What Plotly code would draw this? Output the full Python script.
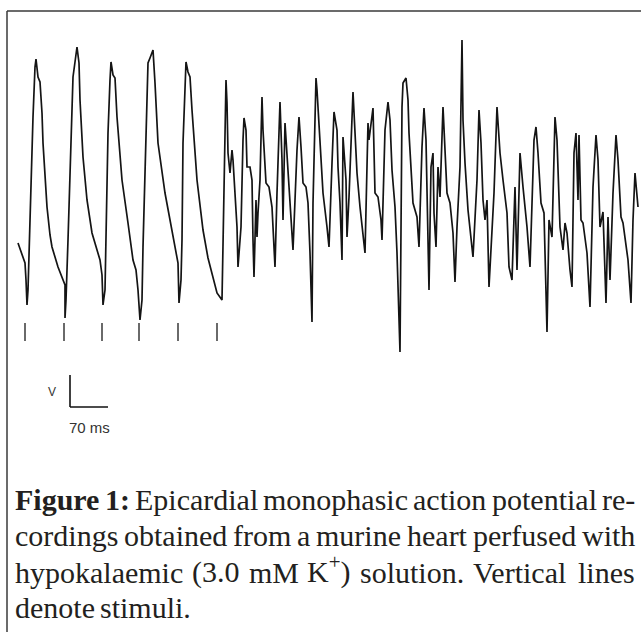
import plotly.graph_objects as go

W, H = 641, 632

# ---- MAP trace (time in samples, amplitude in arbitrary units) ----
t = [18, 21, 25, 26, 27, 28, 30, 32, 33, 35, 36, 37, 38, 40, 42, 43, 45, 47, 50, 52, 58, 65, 65,
     66, 68, 70, 71, 73, 75, 77, 79, 80, 83, 87, 92, 100, 102, 103,
     105, 106, 108, 110, 111, 113, 115, 117, 122, 128, 133, 136, 138, 140,
     142, 143, 146, 148, 150, 153, 155, 158, 165, 172, 178, 179,
     181, 182, 183, 186, 188, 190, 192, 197, 203, 208, 212, 217, 222,
     224, 225, 226, 227, 228, 230, 232, 233, 235, 237, 238,
     241, 243, 244, 246, 247, 250, 252, 253, 254,
     256, 257, 258, 260, 262, 263, 266, 269, 272, 273, 275,
     277, 278, 280, 282, 283, 285, 287, 288, 290, 293,
     297, 299, 301, 303, 306, 308, 310, 312,
     313, 316, 317, 319, 321, 323, 327, 329,
     332, 334, 337, 338, 340, 342,
     343, 346, 347, 349, 353, 355, 357, 360, 363, 365,
     368, 369, 373, 374, 375, 378, 381, 382,
     385, 388, 390, 392, 395, 397, 400,
     402, 403, 406, 408, 409, 411, 413, 417, 419,
     422, 424, 426, 427, 429,
     431, 433, 434, 436,
     438, 440, 443, 445, 447, 450, 453, 455,
     457, 460, 462, 462, 463, 465, 468, 472, 473,
     477, 479, 481, 483, 485, 487, 489,
     492, 494, 497, 500, 503, 507, 509, 512,
     515, 517, 520, 522, 523, 527, 530,
     534, 536, 538, 541, 544, 547, 547,
     549, 552, 555, 557, 560, 563, 565, 567, 570, 572,
     574, 576, 578, 579, 581, 583, 587, 590,
     593, 596, 598, 600, 603, 606,
     608, 610, 613, 616, 618, 621, 623, 628, 631,
     633, 635, 637, 638]
v = [117, 108, 97, 80, 55, 70, 147, 198, 243, 293, 301, 292, 283, 278, 247, 217, 180, 153, 125, 113, 93, 75, 42,
     60, 120, 180, 223, 283, 298, 313, 297, 260, 203, 160, 127, 100, 85, 55,
     70, 117, 227, 280, 298, 285, 282, 243, 180, 137, 100, 90, 70, 40,
     60, 113, 227, 297, 302, 310, 277, 217, 167, 127, 97, 57,
     80, 120, 217, 298, 288, 283, 250, 180, 130, 102, 87, 67, 60,
     160, 240, 280, 257, 207, 187, 210, 200, 167, 133, 93,
     133, 220, 242, 230, 193, 193, 180, 120, 83,
     160, 123, 147, 180, 263, 230, 177, 173, 153, 133, 93,
     167, 197, 258, 200, 140, 237, 207, 183, 153, 110,
     210, 243, 213, 177, 173, 157, 107, 38,
     157, 282, 270, 233, 193, 167, 133, 113,
     197, 248, 230, 193, 157, 100,
     223, 180, 123, 163, 268, 227, 187, 153, 127, 107,
     237, 220, 252, 220, 167, 163, 140, 120,
     230, 258, 240, 190, 153, 107, 8,
     253, 277, 282, 260, 227, 187, 157, 143, 113,
     213, 252, 220, 167, 70,
     193, 207, 147, 113,
     193, 163, 253, 213, 167, 157, 127, 78,
     133, 193, 298, 320, 240, 197, 150, 110, 103,
     180, 250, 217, 160, 140, 160, 73,
     123, 167, 253, 207, 180, 147, 93, 80,
     173, 90, 207, 183, 173, 133, 93,
     220, 233, 207, 157, 147, 50, 28,
     140, 123, 243, 220, 133, 110, 137, 127, 90, 73,
     207, 227, 160, 225, 140, 137, 107, 53,
     173, 225, 200, 133, 148, 57,
     143, 80, 167, 225, 200, 143, 137, 100, 57,
     140, 187, 163, 153]

# stimulus markers
stim_t = [25, 64, 102, 139, 178, 217]
stim_top = [37, 37, 37, 37, 37, 37]
stim_bottom = [19, 19, 19, 19, 19, 19]

# caption text: (word, bold) per line; last line is not justified
caption_lines = [
    [("Figure", True), ("1:", True), ("Epicardial", False), ("monophasic", False),
     ("action", False), ("potential", False), ("re-", False)],
    [("cordings", False), ("obtained", False), ("from", False), ("a", False), ("murine", False),
     ("heart", False), ("perfused", False), ("with", False)],
    [("hypokalaemic", False), ("(3.0", False), ("mM", False), ("K<sup>+</sup>)", False),
     ("solution.", False), ("Vertical", False), ("lines", False)],
    [("denote", False), ("stimuli.", False)],
]

# ---------------- layout helpers (Times New Roman / Liberation Serif advance widths) -------------
REG = {'a': 444, 'b': 500, 'c': 444, 'd': 500, 'e': 444, 'f': 333, 'g': 500, 'h': 500, 'i': 278,
       'k': 500, 'l': 278, 'm': 778, 'n': 500, 'o': 500, 'p': 500, 'r': 333, 's': 389, 't': 278,
       'u': 500, 'w': 722, 'y': 500, 'E': 611, 'F': 556, 'K': 722, 'M': 889, 'V': 722, '(': 333,
       ')': 333, '.': 250, '0': 500, '3': 500, '-': 333, ':': 278, '+': 564 * 0.7}
BOLD = {'F': 611, 'i': 278, 'g': 500, 'u': 556, 'r': 444, 'e': 444, '1': 500, ':': 333}
FS = 30
X_LEFT, X_RIGHT = 14, 634
BASELINES = [511, 547, 584, 619]


def word_width(word, bold):
    plain = word.replace("<sup>", "").replace("</sup>", "")
    table = BOLD if bold else REG
    return sum(table.get(c, 500) for c in plain) * FS / 1000.0


def px(x):
    return x / W


def py(y):
    return 1 - y / H


fig = go.Figure()

fig.add_trace(go.Scatter(x=t, y=v, mode="lines",
                         line=dict(color="#141414", width=1.7),
                         hoverinfo="skip"))

sx, sy = [], []
for tt, a, b in zip(stim_t, stim_top, stim_bottom):
    sx += [tt, tt, None]
    sy += [a, b, None]
fig.add_trace(go.Scatter(x=sx, y=sy, mode="lines",
                         line=dict(color="#5a5a5a", width=1.8),
                         hoverinfo="skip"))

shapes = [
    # frame (left and top edges)
    dict(type="line", xref="paper", yref="paper", x0=px(7), x1=px(7), y0=py(11), y1=py(640),
         line=dict(color="#3a3a3a", width=1.5)),
    dict(type="line", xref="paper", yref="paper", x0=px(7), x1=px(660), y0=py(11), y1=py(11),
         line=dict(color="#3a3a3a", width=1.5)),
    # scale bar
    dict(type="line", xref="paper", yref="paper", x0=px(70), x1=px(70), y0=py(375), y1=py(407),
         line=dict(color="#111111", width=1.6)),
    dict(type="line", xref="paper", yref="paper", x0=px(70), x1=px(108), y0=py(407), y1=py(407),
         line=dict(color="#111111", width=1.6)),
]

annotations = [
    dict(text="V", x=px(52), y=py(392), xref="paper", yref="paper", showarrow=False,
         xanchor="center", yanchor="middle",
         font=dict(family="Liberation Sans", size=12, color="#333333")),
    dict(text="70 ms", x=px(89), y=py(427), xref="paper", yref="paper", showarrow=False,
         xanchor="center", yanchor="middle",
         font=dict(family="Liberation Sans", size=15, color="#333333")),
]

for li, (words, base) in enumerate(zip(caption_lines, BASELINES)):
    widths = [word_width(w, b) for w, b in words]
    if li < len(caption_lines) - 1:
        gap = (X_RIGHT - X_LEFT - sum(widths)) / (len(words) - 1)
    else:
        gap = 5
    x = X_LEFT
    for (word, bold), wd in zip(words, widths):
        txt = "<b>%s</b>" % word if bold else word
        annotations.append(dict(text=txt, x=px(x - 1), y=py(base + 7), xref="paper", yref="paper",
                                showarrow=False, xanchor="left", yanchor="bottom",
                                font=dict(family="Liberation Serif", size=FS, color="#231f20")))
        x += wd + gap

fig.update_layout(
    width=W, height=H,
    margin=dict(l=0, r=0, t=0, b=0),
    paper_bgcolor="white", plot_bgcolor="white",
    showlegend=False,
    xaxis=dict(visible=False, range=[0, W], fixedrange=True),
    yaxis=dict(visible=False, range=[360 - H, 360], fixedrange=True),
    shapes=shapes,
    annotations=annotations,
)

fig.write_html("out.html", config={"displayModeBar": False},
               post_script="document.body.style.margin='0px';document.body.style.overflow='hidden';")
